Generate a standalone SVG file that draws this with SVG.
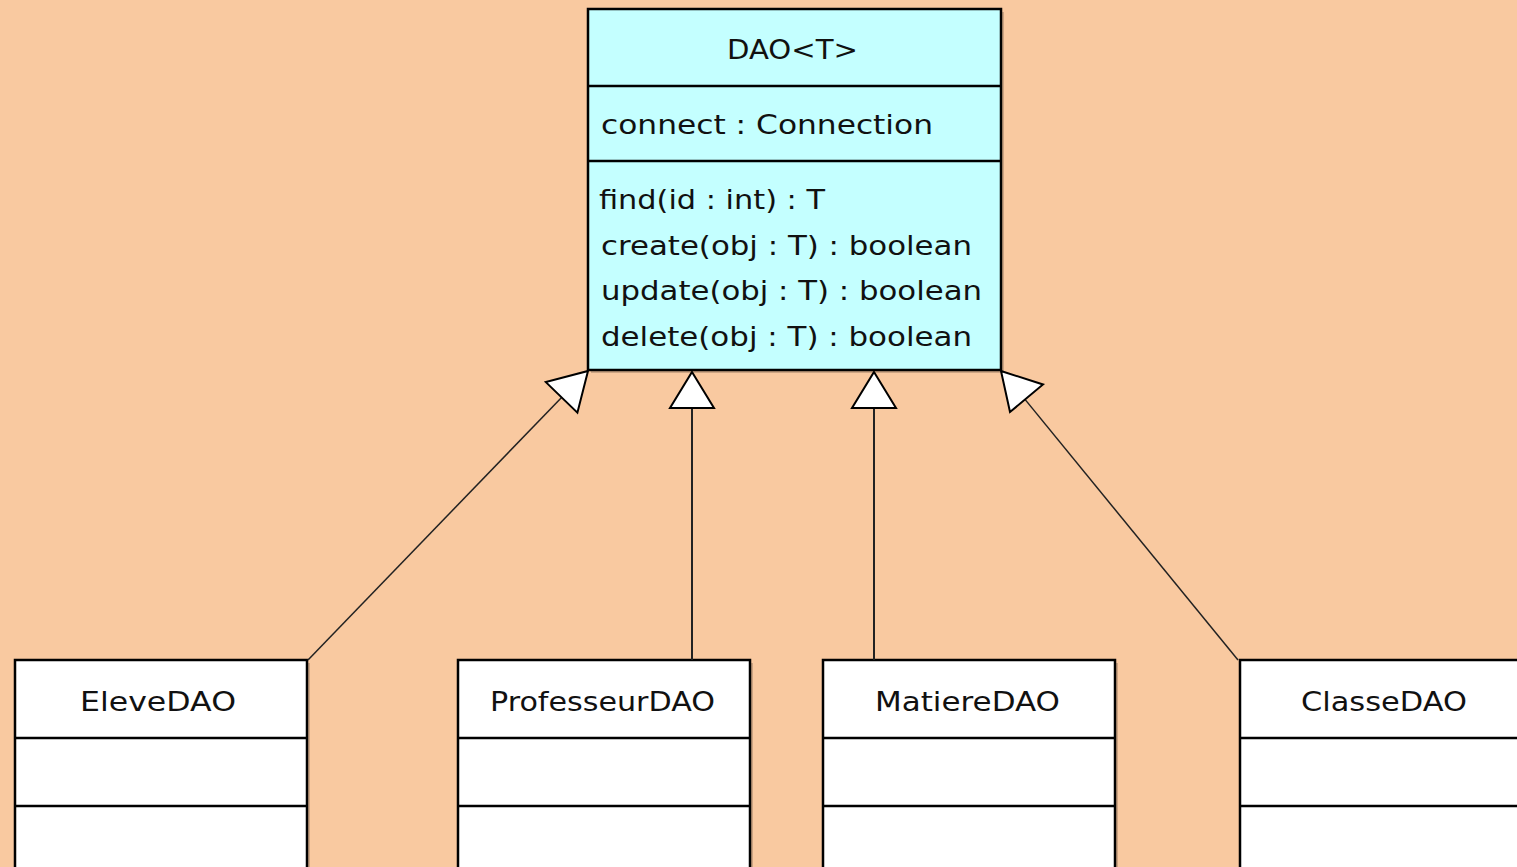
<svg xmlns="http://www.w3.org/2000/svg" width="1517" height="867" viewBox="0 0 1517 867">
<style>
.box{stroke:#000;stroke-width:2.5}
.div{stroke:#000;stroke-width:2.5}
.sh{fill:#000;opacity:0.18}
.t{font-family:"DejaVu Sans","Liberation Sans",sans-serif;font-size:26px;fill:#111}
.c{stroke:#222;stroke-width:1.5;fill:none}
.head{fill:#fff;stroke:#000;stroke-width:2}
</style>
<rect width="1517" height="867" fill="#F9C9A0"/>
<g id="DAO">
<rect class="sh" x="591" y="12" width="413" height="361"/>
<rect class="box" x="588" y="9" width="413" height="361" fill="#C4FFFF"/>
<line class="div" x1="588" y1="86" x2="1001" y2="86"/>
<line class="div" x1="588" y1="161" x2="1001" y2="161"/>
<text class="t" x="727" y="59" textLength="131" lengthAdjust="spacingAndGlyphs">DAO&lt;T&gt;</text>
<text class="t" x="601" y="134" textLength="332" lengthAdjust="spacingAndGlyphs">connect : Connection</text>
<text class="t" x="599" y="209" textLength="226" lengthAdjust="spacingAndGlyphs">find(id : int) : T</text>
<text class="t" x="601" y="255" textLength="371" lengthAdjust="spacingAndGlyphs">create(obj : T) : boolean</text>
<text class="t" x="601" y="300" textLength="381" lengthAdjust="spacingAndGlyphs">update(obj : T) : boolean</text>
<text class="t" x="601" y="346" textLength="371" lengthAdjust="spacingAndGlyphs">delete(obj : T) : boolean</text>
</g>
<g id="EleveDAO">
<rect class="sh" x="18" y="663" width="292" height="220"/>
<rect class="box" x="15" y="660" width="292" height="220" fill="#fff"/>
<line class="div" x1="15" y1="738" x2="307" y2="738"/>
<line class="div" x1="15" y1="806" x2="307" y2="806"/>
<text class="t" x="80" y="711" textLength="156" lengthAdjust="spacingAndGlyphs">EleveDAO</text>
</g>
<g id="ProfesseurDAO">
<rect class="sh" x="461" y="663" width="292" height="220"/>
<rect class="box" x="458" y="660" width="292" height="220" fill="#fff"/>
<line class="div" x1="458" y1="738" x2="750" y2="738"/>
<line class="div" x1="458" y1="806" x2="750" y2="806"/>
<text class="t" x="490" y="711" textLength="225" lengthAdjust="spacingAndGlyphs">ProfesseurDAO</text>
</g>
<g id="MatiereDAO">
<rect class="sh" x="826" y="663" width="292" height="220"/>
<rect class="box" x="823" y="660" width="292" height="220" fill="#fff"/>
<line class="div" x1="823" y1="738" x2="1115" y2="738"/>
<line class="div" x1="823" y1="806" x2="1115" y2="806"/>
<text class="t" x="875" y="711" textLength="185" lengthAdjust="spacingAndGlyphs">MatiereDAO</text>
</g>
<g id="ClasseDAO">
<rect class="box" x="1240" y="660" width="300" height="220" fill="#fff"/>
<line class="div" x1="1240" y1="738" x2="1540" y2="738"/>
<line class="div" x1="1240" y1="806" x2="1540" y2="806"/>
<text class="t" x="1301" y="711" textLength="166" lengthAdjust="spacingAndGlyphs">ClasseDAO</text>
</g>
<g id="connectors">
<line class="c" x1="308" y1="660" x2="561.6" y2="397.4"/>
<polygon class="head" points="588,371 577.4,412.7 545.8,382.1"/>
<line class="c" x1="692" y1="660" x2="692" y2="408" style="stroke-width:2"/>
<polygon class="head" points="692,372 714,408 670,408"/>
<line class="c" x1="874" y1="660" x2="874" y2="408" style="stroke-width:2"/>
<polygon class="head" points="874,372 896,408 852,408"/>
<line class="c" x1="1238" y1="660" x2="1025" y2="399.4"/>
<polygon class="head" points="1001,371 1043,384.5 1010,412"/>
</g>
</svg>
